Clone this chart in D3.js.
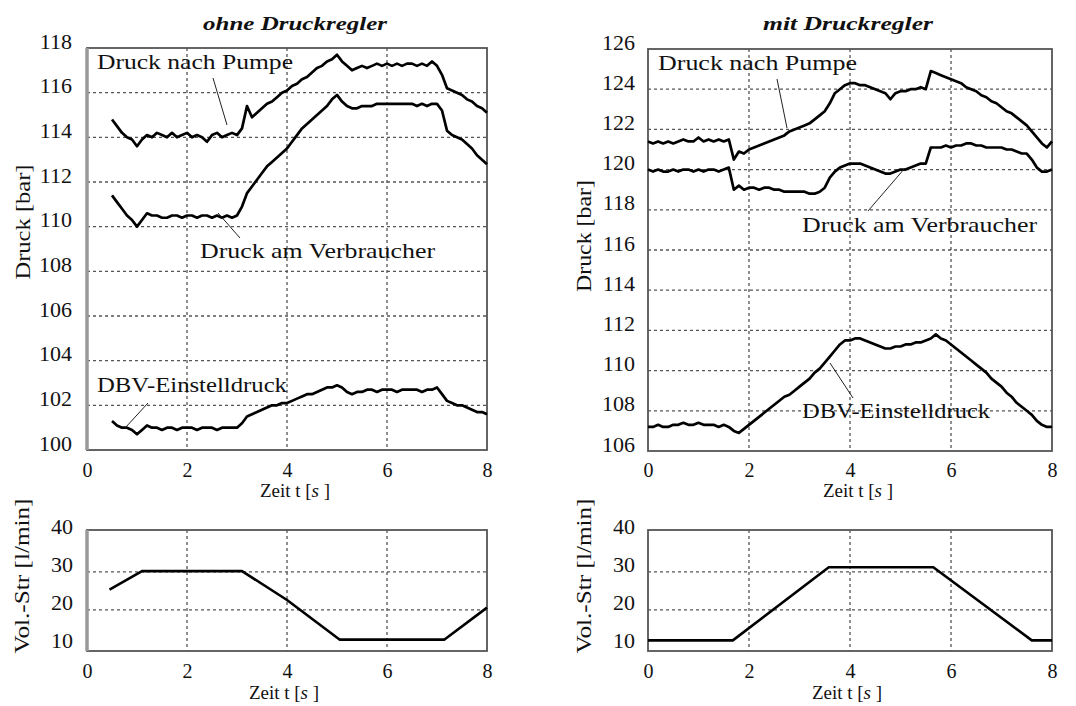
<!DOCTYPE html>
<html><head><meta charset="utf-8">
<script src="https://cdn.jsdelivr.net/npm/d3@7"></script>
<style>
body{margin:0;background:#fff}
svg{display:block}
text{font-family:"Liberation Serif",serif;fill:#111}
</style>
</head><body>
<svg id="c" width="1076" height="706"></svg>
<script>
// ---------- DATA ----------
const titles = ["ohne Druckregler", "mit Druckregler"];
const xTicks = [0, 2, 4, 6, 8];
const yTicksOhne = [100, 102, 104, 106, 108, 110, 112, 114, 116, 118];
const yTicksMit = [106, 108, 110, 112, 114, 116, 118, 120, 122, 124, 126];
const yTicksVol = [10, 20, 30, 40];
const seriesNames = ["Druck nach Pumpe", "Druck am Verbraucher", "DBV-Einstelldruck"];

// time grids (s)
const tOhne = d3.range(5, 81).map(i => i / 10);   // 0.5 .. 8.0
const tMit = d3.range(0, 81).map(i => i / 10);    // 0.0 .. 8.0

const pumpeOhne = [114.8,114.5,114.2,114.0,113.9,113.6,113.9,114.1,114.0,114.2,
  114.1,114.0,114.2,114.0,114.1,114.2,114.0,114.1,114.0,113.8,
  114.1,114.2,114.0,114.1,114.2,114.1,114.4,115.4,114.9,115.1,
  115.3,115.5,115.6,115.8,116.0,116.1,116.3,116.4,116.6,116.7,
  116.9,117.1,117.2,117.4,117.5,117.7,117.4,117.2,117.0,117.1,
  117.2,117.1,117.2,117.3,117.2,117.3,117.2,117.3,117.2,117.3,
  117.3,117.2,117.3,117.2,117.4,117.2,116.8,116.2,116.1,116.0,
  115.9,115.7,115.6,115.4,115.3,115.1];
const verbraucherOhne = [111.4,111.1,110.8,110.5,110.3,110.0,110.3,110.6,110.5,110.5,
  110.4,110.4,110.5,110.5,110.4,110.5,110.5,110.4,110.5,110.5,
  110.4,110.5,110.4,110.5,110.4,110.5,110.9,111.5,111.8,112.1,
  112.4,112.7,112.9,113.1,113.3,113.5,113.8,114.1,114.4,114.6,
  114.8,115.0,115.2,115.4,115.7,115.9,115.6,115.4,115.3,115.3,
  115.4,115.4,115.4,115.5,115.5,115.5,115.5,115.5,115.5,115.5,
  115.5,115.4,115.5,115.4,115.5,115.5,115.2,114.3,114.1,114.0,
  113.9,113.7,113.5,113.2,113.0,112.8];
const dbvOhne = [101.3,101.1,101.0,101.0,100.9,100.7,100.9,101.1,101.0,101.0,
  100.9,101.0,101.0,100.9,101.0,101.0,101.0,100.9,101.0,101.0,
  101.0,100.9,101.0,101.0,101.0,101.0,101.2,101.5,101.6,101.7,
  101.8,101.9,102.0,102.0,102.1,102.1,102.2,102.3,102.4,102.5,
  102.5,102.6,102.7,102.8,102.8,102.9,102.8,102.6,102.5,102.6,
  102.6,102.7,102.7,102.6,102.7,102.7,102.7,102.6,102.7,102.7,
  102.7,102.7,102.6,102.7,102.7,102.8,102.5,102.2,102.1,102.0,
  102.0,101.9,101.8,101.7,101.7,101.6];

const pumpeMit = [121.4,121.3,121.4,121.3,121.4,121.3,121.4,121.5,121.4,121.4,
  121.6,121.4,121.5,121.4,121.5,121.4,121.5,120.5,120.9,120.8,
  121.0,121.1,121.2,121.3,121.4,121.5,121.6,121.7,121.9,122.0,
  122.1,122.2,122.3,122.5,122.7,122.9,123.3,123.8,124.0,124.2,
  124.3,124.3,124.2,124.2,124.1,124.0,123.9,123.8,123.5,123.8,
  123.9,123.9,124.0,124.0,124.1,124.0,124.9,124.8,124.7,124.6,
  124.5,124.4,124.3,124.1,124.0,123.9,123.7,123.6,123.4,123.3,
  123.1,122.9,122.8,122.6,122.4,122.2,121.9,121.6,121.3,121.1,
  121.4];
const verbraucherMit = [120.0,119.9,120.0,119.9,119.9,120.0,119.9,120.0,120.0,119.9,
  120.0,119.9,120.0,120.0,119.9,120.0,120.1,119.0,119.2,119.0,
  119.1,119.1,119.0,119.1,119.1,119.0,119.0,118.9,118.9,118.9,
  118.9,118.9,118.8,118.8,118.9,119.1,119.6,119.9,120.1,120.2,
  120.3,120.3,120.3,120.2,120.1,120.0,119.9,119.8,119.8,119.9,
  120.0,120.0,120.1,120.2,120.3,120.3,121.1,121.1,121.1,121.2,
  121.1,121.2,121.2,121.3,121.3,121.2,121.2,121.1,121.1,121.1,
  121.1,121.0,121.0,120.9,120.8,120.8,120.5,120.1,119.9,119.9,
  120.0];
const dbvMit = [107.2,107.2,107.3,107.2,107.2,107.3,107.3,107.4,107.3,107.3,
  107.4,107.3,107.3,107.3,107.2,107.3,107.2,107.0,106.9,107.1,
  107.3,107.5,107.7,107.9,108.1,108.3,108.5,108.7,108.8,109.0,
  109.2,109.4,109.6,109.9,110.1,110.4,110.7,111.0,111.3,111.5,
  111.5,111.6,111.6,111.5,111.4,111.3,111.2,111.1,111.1,111.2,
  111.2,111.3,111.3,111.4,111.4,111.5,111.6,111.8,111.6,111.5,
  111.3,111.1,110.9,110.7,110.5,110.3,110.1,109.9,109.6,109.4,
  109.2,108.9,108.7,108.4,108.2,108.0,107.8,107.5,107.3,107.2,
  107.2];

const volOhneT = [0.45, 1.1, 3.1, 4.0, 5.05, 7.15, 8.0];
const volOhne  = [25.3, 30.2, 30.2, 22.6, 12.2, 12.2, 20.6];
const volMitT  = [0, 1.68, 3.58, 5.65, 7.6, 8.0];
const volMit   = [12.0, 12.0, 31.2, 31.2, 12.0, 12.0];

// ---------- DRAW ----------
const svg = d3.select("#c");
const zip = (t, v) => t.map((d, i) => [d, v[i]]);
const FF = '"Liberation Serif",serif';

function panel(cfg) {
  const g = svg.append("g");
  const x = d3.scaleLinear().domain([0, 8]).range([cfg.x0, cfg.x1]);
  const y = d3.scaleLinear().domain(cfg.yDomain).range([cfg.y1, cfg.y0]);

  // grid
  g.selectAll(".vg").data([2, 4, 6]).join("line")
    .attr("x1", d => x(d)).attr("x2", d => x(d))
    .attr("y1", cfg.y0).attr("y2", cfg.y1)
    .attr("stroke", "#555").attr("stroke-width", 1.3).attr("stroke-dasharray", "3,3");
  g.selectAll(".hg").data(cfg.hGrid).join("line")
    .attr("x1", cfg.x0).attr("x2", cfg.x1)
    .attr("y1", d => y(d)).attr("y2", d => y(d))
    .attr("stroke", "#555").attr("stroke-width", 1.3).attr("stroke-dasharray", "3,3");

  // frame
  g.append("rect").attr("x", cfg.x0).attr("y", cfg.y0)
    .attr("width", cfg.x1 - cfg.x0).attr("height", cfg.y1 - cfg.y0)
    .attr("fill", "none").attr("stroke", "#555").attr("stroke-width", 1.8);
  if (cfg.thickLeft) {
    g.append("line").attr("x1", cfg.x0).attr("x2", cfg.x0).attr("y1", cfg.y0).attr("y2", cfg.y1)
      .attr("stroke", "#999").attr("stroke-width", 3.5);
  }

  // y tick labels
  const ya = d3.axisLeft(y).tickValues(cfg.yTicks).tickSize(0).tickFormat(d3.format("d"));
  const yg = g.append("g").attr("transform", `translate(${cfg.yLabX},0)`).call(ya)
    .attr("font-family", FF);
  yg.select(".domain").remove();
  yg.selectAll("text").attr("x", 0).attr("dy", 0)
    .style("font-family", FF).style("font-size", "22px").attr("fill", "#111");

  // x tick labels
  const xa = d3.axisBottom(x).tickValues(xTicks).tickSize(0).tickFormat(d3.format("d"));
  const xg = g.append("g").attr("transform", `translate(0,${cfg.xLabY})`).call(xa)
    .attr("font-family", FF);
  xg.select(".domain").remove();
  xg.selectAll("text").attr("y", 0).attr("dy", 0)
    .style("font-family", FF).style("font-size", "20px").attr("fill", "#111");

  // x title
  const xt = g.append("text").attr("x", cfg.xTitleX).attr("y", cfg.xTitleY)
    .attr("text-anchor", "middle").style("font-size", "19px");
  xt.append("tspan").text("Zeit t [");
  xt.append("tspan").style("font-style", "italic").text("s");
  xt.append("tspan").text(" ]");

  // y title
  g.append("text").attr("transform", `translate(${cfg.yTitleX},${cfg.yTitleY}) rotate(-90)`)
    .attr("text-anchor", "middle").attr("dy", "0.35em")
    .attr("textLength", cfg.yTitleLen).attr("lengthAdjust", "spacingAndGlyphs")
    .style("font-size", "20px").text(cfg.yTitle);

  // series
  const line = d3.line().x(d => x(d[0])).y(d => y(d[1]));
  cfg.series.forEach(s => {
    g.append("path").attr("d", line(s.data)).attr("fill", "none")
      .attr("stroke", "#000").attr("stroke-width", s.w || 2.7)
      .attr("stroke-linejoin", "round");
  });

  // annotations
  (cfg.notes || []).forEach(n => {
    g.append("line").attr("x1", n.l[0]).attr("y1", n.l[1]).attr("x2", n.l[2]).attr("y2", n.l[3])
      .attr("stroke", "#222").attr("stroke-width", 1);
    g.append("text").attr("x", n.x).attr("y", n.y)
      .attr("textLength", n.len).attr("lengthAdjust", "spacingAndGlyphs")
      .style("font-size", "21px").text(n.text);
  });

  // title
  if (cfg.title) {
    g.append("text").attr("x", cfg.titleX).attr("y", 30).attr("text-anchor", "middle")
      .attr("textLength", cfg.titleLen).attr("lengthAdjust", "spacingAndGlyphs")
      .style("font-size", "19px").style("font-weight", "bold").style("font-style", "italic")
      .text(cfg.title);
  }
}

panel({
  x0: 87, x1: 487, y0: 48, y1: 450, yDomain: [100, 118],
  yTicks: yTicksOhne, hGrid: yTicksOhne.slice(1, -1), yLabX: 72, xLabY: 477,
  xTitleX: 295, xTitleY: 497, yTitleX: 23, yTitleY: 222, yTitleLen: 115, yTitle: "Druck [bar]",
  thickLeft: true, title: titles[0], titleX: 295, titleLen: 184,
  series: [{data: zip(tOhne, pumpeOhne)}, {data: zip(tOhne, verbraucherOhne)}, {data: zip(tOhne, dbvOhne)}],
  notes: [
    {text: seriesNames[0], x: 97, y: 69, len: 196, l: [213, 78, 227, 125]},
    {text: seriesNames[1], x: 200, y: 258, len: 235, l: [218, 213, 240, 238]},
    {text: seriesNames[2], x: 97, y: 392, len: 190, l: [148, 403, 125, 428]}
  ]
});

panel({
  x0: 648, x1: 1052, y0: 49, y1: 451, yDomain: [106, 126],
  yTicks: yTicksMit, hGrid: yTicksMit.slice(1, -1), yLabX: 635, xLabY: 477,
  xTitleX: 858, xTitleY: 497, yTitleX: 584, yTitleY: 236, yTitleLen: 112, yTitle: "Druck [bar]",
  thickLeft: false, title: titles[1], titleX: 848, titleLen: 170,
  series: [{data: zip(tMit, pumpeMit)}, {data: zip(tMit, verbraucherMit)}, {data: zip(tMit, dbvMit)}],
  notes: [
    {text: seriesNames[0], x: 658, y: 70, len: 199, l: [777, 79, 787, 128]},
    {text: seriesNames[1], x: 802, y: 232, len: 235, l: [868, 211, 905, 168]},
    {text: seriesNames[2], x: 802, y: 418, len: 188, l: [830, 363, 853, 398]}
  ]
});

panel({
  x0: 87, x1: 487, y0: 530, y1: 651, yDomain: [9.2, 41],
  yTicks: yTicksVol, hGrid: [20, 30], yLabX: 73, xLabY: 678,
  xTitleX: 284, xTitleY: 699, yTitleX: 22, yTitleY: 576, yTitleLen: 155, yTitle: "Vol.-Str [l/min]",
  thickLeft: true,
  series: [{data: zip(volOhneT, volOhne), w: 2.6}]
});

panel({
  x0: 648, x1: 1052, y0: 530, y1: 651, yDomain: [9.2, 41],
  yTicks: yTicksVol, hGrid: [20, 30], yLabX: 635, xLabY: 678,
  xTitleX: 847, xTitleY: 699, yTitleX: 584, yTitleY: 576, yTitleLen: 155, yTitle: "Vol.-Str [l/min]",
  thickLeft: false,
  series: [{data: zip(volMitT, volMit), w: 2.6}]
});
</script>
</body></html>
